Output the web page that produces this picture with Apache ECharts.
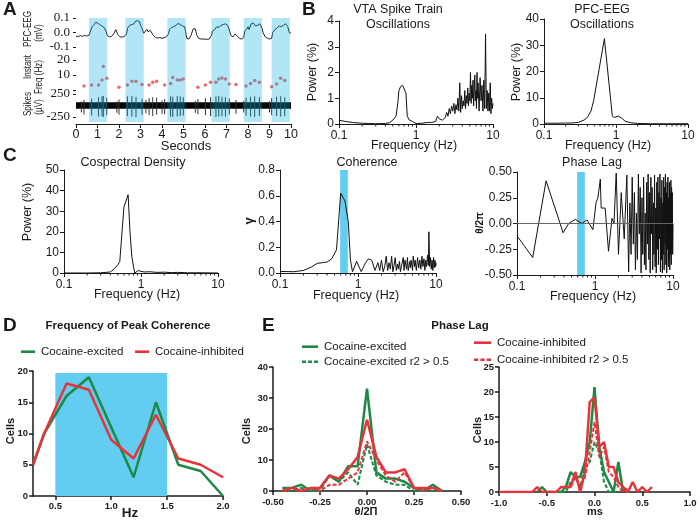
<!DOCTYPE html>
<html><head><meta charset="utf-8">
<script src="https://cdn.jsdelivr.net/npm/echarts@6.0.0/dist/echarts.min.js"></script>
<style>html,body{margin:0;padding:0;background:#fff;}#chart{width:700px;height:524px;}</style>
</head><body><div id="chart"></div>
<script>
// ---------- Panel A ----------
const bandsA = [[0.6,1.45],[2.3,3.15],[4.25,5.1],[6.3,7.15],[7.8,8.65],[9.1,9.95]];
const eegTicks = [-0.1, 0, 0.1];
const eegTrace = [[0,-0.025],[0.1,-0.028],[0.2,-0.022],[0.3,-0.026],[0.4,-0.02],[0.5,-0.024],[0.6,-0.02],[0.65,0.0],[0.7,0.02],[0.75,0.04],[0.8,0.035],[0.85,0.055],[0.9,0.07],[0.95,0.075],[1.0,0.065],[1.05,0.07],[1.1,0.055],[1.15,0.06],[1.2,0.045],[1.25,0.05],[1.3,0.035],[1.35,0.04],[1.4,0.01],[1.45,-0.02],[1.55,-0.03],[1.65,-0.028],[1.75,-0.01],[1.85,0.02],[1.95,-0.015],[2.05,-0.03],[2.15,-0.032],[2.25,-0.028],[2.35,-0.01],[2.4,0.03],[2.5,0.05],[2.6,0.055],[2.7,0.06],[2.75,0.075],[2.85,0.082],[2.9,0.07],[2.95,0.075],[3.0,0.05],[3.05,0.035],[3.1,0.025],[3.15,-0.005],[3.2,0.0],[3.3,0.022],[3.35,0.005],[3.45,0.015],[3.5,0.018],[3.6,-0.02],[3.7,-0.035],[3.8,-0.038],[3.9,-0.035],[4.0,-0.04],[4.1,-0.036],[4.2,-0.03],[4.3,-0.01],[4.35,0.02],[4.45,0.035],[4.55,0.04],[4.65,0.05],[4.75,0.062],[4.85,0.055],[4.95,0.045],[5.05,0.04],[5.1,0.005],[5.15,-0.04],[5.25,-0.045],[5.35,-0.02],[5.45,0.025],[5.55,0.025],[5.62,-0.02],[5.7,-0.04],[5.8,-0.045],[5.95,-0.045],[6.1,-0.047],[6.2,-0.045],[6.3,-0.02],[6.35,0.01],[6.45,0.02],[6.55,0.04],[6.65,0.035],[6.75,0.05],[6.85,0.055],[6.95,0.06],[7.05,0.05],[7.1,0.04],[7.15,0.01],[7.2,-0.02],[7.3,-0.03],[7.4,-0.01],[7.5,-0.025],[7.6,-0.04],[7.7,-0.045],[7.8,-0.035],[7.85,0.01],[7.95,0.025],[8.0,0.04],[8.05,0.02],[8.15,0.06],[8.25,0.065],[8.35,0.045],[8.45,0.05],[8.55,0.06],[8.65,0.03],[8.7,0.0],[8.8,-0.03],[8.9,-0.04],[9.0,-0.045],[9.1,-0.04],[9.15,0.0],[9.25,0.02],[9.35,0.03],[9.45,0.045],[9.55,0.04],[9.65,0.05],[9.75,0.06],[9.85,0.04],[9.92,0.0],[10.0,-0.005]];
const freqTime = [0.37,0.73,1.05,1.21,1.27,1.43,2.0,2.39,2.6,2.79,3.07,3.4,3.57,3.75,4.12,4.4,4.5,4.71,4.85,4.99,5.67,6.02,6.26,6.51,6.64,6.79,6.95,7.13,7.44,7.91,8.12,8.31,8.53,9.1,9.33,9.52,9.71];
const freqHz   = [2.7,3.3,3.3,6.7,15.6,7.8,1.8,3.3,5.8,5.8,3.6,3.3,5.1,5.8,3.3,4.4,8.4,6.7,6.7,7.3,1.8,3.3,5.1,5.1,7.3,8.0,7.3,4.0,3.6,2.7,4.4,6.4,5.1,2.2,4.0,7.8,6.4];
const spikeTime = [0.25,0.37,0.73,1.05,1.21,1.27,1.43,1.9,2.0,2.39,2.6,2.79,3.07,3.25,3.4,3.57,3.75,4.0,4.12,4.4,4.5,4.71,4.85,4.99,5.55,5.67,6.02,6.26,6.51,6.64,6.79,6.95,7.13,7.44,7.8,7.91,8.12,8.31,8.53,9.0,9.1,9.33,9.52,9.71];
const spikeUp   = [90,120,150,180,200,210,170,90,130,200,210,190,150,120,160,180,170,110,140,200,190,210,200,180,100,140,160,180,200,210,190,180,150,120,100,170,190,200,180,90,160,190,200,180];
const spikeDown = [150,200,220,240,230,250,210,160,200,230,240,250,200,170,210,230,200,180,190,240,250,240,230,220,160,190,210,230,250,240,230,240,200,180,150,220,240,250,230,150,210,230,240,230];
const noiseBand = [[0,10,70]];

// ---------- Panel B ----------
const vtaPower = [[0.1,0.15],[0.12,0.1],[0.15,0.06],[0.2,0.03],[0.25,0.02],[0.3,0.01],[0.4,0.02],[0.45,0.05],[0.5,0.15],[0.55,0.3],[0.58,0.8],[0.6,1.3],[0.63,1.45],[0.67,1.5],[0.71,1.52],[0.74,1.2],[0.77,0.3],[0.82,0.15],[0.9,0.1],[0.95,0.05],[1.0,0.02],[1.2,0.03],[1.4,0.06],[1.6,0.06],[1.8,0.1],[1.9,0.3],[2.0,0.2],[2.1,0.22],[2.2,0.15],[2.3,0.2],[2.4,0.25],[2.5,0.45],[2.6,0.3],[2.7,0.6],[2.8,0.4],[2.9,0.7],[3.0,0.5],[3.1,0.8],[3.2,0.4],[3.3,0.75],[3.4,0.55],[3.5,1.0],[3.6,0.5],[3.7,1.6],[3.8,0.45],[3.9,1.1],[4.0,0.6],[4.1,0.9],[4.2,0.7],[4.3,1.3],[4.4,0.6],[4.5,1.1],[4.6,0.8],[4.7,1.4],[4.8,0.7],[4.9,1.2],[5.0,0.9],[5.1,2.0],[5.2,0.8],[5.3,1.5],[5.4,1.0],[5.5,1.7],[5.6,0.7],[5.8,1.9],[5.9,0.9],[6.0,1.3],[6.1,0.6],[6.2,2.0],[6.3,1.0],[6.4,1.6],[6.6,0.5],[6.8,1.8],[7.0,0.9],[7.2,1.5],[7.4,0.5],[7.6,1.7],[7.8,0.6],[8.0,3.5],[8.2,0.6],[8.4,1.3],[8.6,0.5],[8.8,1.2],[9.0,0.5],[9.2,1.6],[9.4,0.4],[9.6,1.0],[9.8,0.6],[10.0,0.8]];
const pfcPower = [[0.1,0.3],[0.15,0.3],[0.2,0.35],[0.25,0.4],[0.3,0.6],[0.36,1.5],[0.4,2.5],[0.45,5],[0.49,9],[0.69,32.5],[0.89,3],[0.95,2.5],[1.0,2.2],[1.08,3],[1.2,2.2],[1.35,1],[1.6,0.5],[2,0.2],[3,0.1],[5,0.1],[10,0.1]];

// ---------- Panel C ----------
const cospectral = [[0.1,0],[0.2,0],[0.3,0.1],[0.4,0.5],[0.45,2],[0.5,4],[0.53,5.5],[0.6,32],[0.68,38],[0.72,20],[0.76,8],[0.8,3],[0.83,0],[0.88,0.5],[0.92,1.2],[1.0,0.8],[1.1,0.5],[1.3,0.6],[1.6,0.3],[2,0.4],[2.5,0.2],[3,0.3],[4,0.1],[6,0.1],[10,0]];
const coherence = [[0.1,0.012],[0.15,0.01],[0.2,0.02],[0.25,0.045],[0.3,0.075],[0.35,0.08],[0.4,0.085],[0.46,0.11],[0.53,0.18],[0.6,0.62],[0.68,0.56],[0.75,0.4],[0.8,0.1],[0.85,0.01],[0.96,0.09],[1.1,0.01],[1.25,0.08],[1.36,0.11],[1.5,0.1],[1.65,0.02],[1.8,0.08],[1.9,0.02],[2.0,0.1],[2.1,0.01],[2.2,0.05],[2.3,0.13],[2.4,0.02],[2.5,0.08],[2.6,0.03],[2.7,0.13],[2.8,0.01],[2.9,0.06],[3.0,0.12],[3.1,0.02],[3.2,0.07],[3.3,0.03],[3.4,0.09],[3.5,0.01],[3.6,0.05],[3.8,0.12],[3.9,0.02],[4.0,0.1],[4.2,0.03],[4.3,0.12],[4.4,0.02],[4.6,0.09],[4.7,0.04],[4.8,0.1],[5.0,0.02],[5.1,0.13],[5.3,0.05],[5.4,0.1],[5.6,0.02],[5.8,0.12],[6.0,0.04],[6.2,0.1],[6.4,0.03],[6.6,0.13],[6.8,0.05],[7.0,0.11],[7.2,0.02],[7.4,0.1],[7.6,0.05],[7.8,0.14],[8.0,0.06],[8.1,0.32],[8.3,0.05],[8.5,0.12],[8.7,0.03],[8.9,0.1],[9.1,0.02],[9.3,0.12],[9.5,0.04],[9.7,0.1],[9.9,0.05],[10,0.08]];
const phaseLag = [[0.1,-0.12],[0.159,-0.33],[0.236,0.415],[0.39,-0.09],[0.46,0.0],[0.56,0.04],[0.68,0.0],[0.79,0.035],[0.94,-0.06],[1.03,0.2],[1.09,0.25],[1.17,0.43],[1.2,0.15],[1.35,0.15],[1.49,-0.27],[1.65,0.05],[1.75,0.0],[1.87,0.49],[2.0,-0.3],[2.17,0.3],[2.37,-0.15],[2.56,0.47],[2.7,-0.47],[2.8,0.2],[2.9,-0.3],[3.0,0.45],[3.1,-0.2],[3.2,0.3],[3.3,-0.45],[3.4,0.1],[3.5,-0.35],[3.6,0.48],[3.7,-0.1],[3.8,0.35],[3.9,-0.48],[4.0,0.25],[4.1,-0.3],[4.2,0.45],[4.3,-0.4],[4.4,0.1],[4.5,-0.45],[4.6,0.4],[4.7,-0.2],[4.8,0.48],[4.9,-0.35],[5.0,0.3],[5.1,-0.48],[5.2,0.45],[5.3,-0.1],[5.4,0.35],[5.5,-0.45],[5.6,0.2],[5.7,-0.3],[5.8,0.47],[5.9,-0.42],[6.0,0.15],[6.1,-0.48],[6.2,0.4],[6.3,-0.25],[6.4,0.45],[6.5,-0.4],[6.6,0.3],[6.7,-0.15],[6.8,0.48],[6.9,-0.47],[7.0,0.25],[7.1,-0.35],[7.2,0.42],[7.3,-0.48],[7.4,0.2],[7.5,-0.3],[7.6,0.45],[7.7,-0.45],[7.8,0.35],[7.9,-0.2],[8.0,0.48],[8.1,-0.4],[8.2,0.3],[8.3,-0.48],[8.4,0.4],[8.5,-0.25],[8.6,0.45],[8.7,-0.42],[8.8,0.25],[8.9,-0.35],[9.0,0.4],[9.1,-0.45],[9.2,0.3],[9.3,-0.3],[9.4,0.42],[9.5,-0.4],[9.6,0.35],[9.7,-0.25],[9.8,0.3],[9.9,-0.3],[10.0,0.0]];
const coherenceBand = [[0.59,0.74]];
const logMinor = [0.2,0.3,0.4,0.5,0.6,0.7,0.8,0.9,2,3,4,5,6,7,8,9];

// ---------- Panel D ----------
const hzBins = [0.3,0.4,0.6,0.8,1.0,1.2,1.4,1.6,1.8,2.0];
const hzTicks = [0.5,1.0,1.5,2.0];
const dExcited = [5,10,16,19,11,3,15,5,4,0];
const dInhibited = [5,10,18,17,9,6,13,6,5,3];
const dBand = [[0.5,1.5,19.7]];

// ---------- Panel E ----------
const lagBins = [-0.45,-0.4,-0.35,-0.3,-0.25,-0.2,-0.15,-0.1,-0.05,0,0.05,0.1,0.15,0.2,0.25,0.3,0.35,0.4];
const eExcAll = [1,1,2,0,1,5,3,8,8,33,6,4,4,3,1,0,2,0];
const eExcR2  = [0,0,1,0,0,5,3,6,2,15,5,3,2,2,0,0,0,0];
const eInhAll = [0,1,0,1,1,5,4,7,11,23,11,6,6,7,1,1,1,0];
const eInhR2  = [0,1,0,1,0,2,2,4,6,16,10,5,3,6,1,0,1,0];
const msBins = [-1.0,-0.95,-0.9,-0.85,-0.8,-0.75,-0.7,-0.65,-0.6,-0.55,-0.5,-0.45,-0.4,-0.35,-0.3,-0.25,-0.2,-0.15,-0.1,-0.05,0,0.05,0.1,0.15,0.2,0.25,0.3,0.35,0.4,0.45,0.5,0.55,0.6];
const msExcAll = [null,null,null,null,null,null,null,null,0,1,0,0,0,0,1,4,3,3,6,10,21,9,4,2,0,6,0,null,null,null,null,null,null];
const msExcR2  = [null,null,null,null,null,null,null,null,null,null,null,null,null,0,0,2,3,1,5,6,10,8,2,0,0,0,null,null,null,null,null,null,null];
const msInhAll = [0,0,0,0,0,0,0,0,1,0,0,0,0,1,1,1,4,0,4,18,19,9,10,5,5,2,1,0,2,0,1,0,1];
const msInhR2  = [null,null,null,null,null,null,null,null,null,null,null,null,null,null,1,1,3,1,3,8,14,7,9,4,3,1,0,1,null,null,null,null,null];

// ---------- styling ----------
const SANS = 'Liberation Sans, Arial, sans-serif';
const SERIF = 'Liberation Serif, Times New Roman, serif';
const INK = '#1a1a1a';
const GREEN = '#1c8a44';
const RED = '#e8323c';
const BLUE = '#62cdf0';

const zip = (xs, ys) => xs.map((x, i) => [x, ys[i]]);
const LBL = {showMinLabel: true, showMaxLabel: true, hideOverlap: false};

function thinAxis(extra) {
  const base = {
    axisLine: {show: true, onZero: false, lineStyle: {color: INK, width: 1}},
    axisTick: {show: true, length: 4, lineStyle: {color: INK, width: 1}},
    splitLine: {show: false}
  };
  const o = Object.assign(base, extra);
  o.axisLabel = Object.assign({color: INK, fontSize: 12, fontFamily: SANS, margin: 5}, LBL, extra.axisLabel || {});
  return o;
}
function boldAxis(extra) {
  const base = {
    axisLine: {show: true, onZero: false, lineStyle: {color: INK, width: 1.5}},
    axisTick: {show: true, length: 4, lineStyle: {color: INK, width: 1.5}},
    splitLine: {show: false}
  };
  const o = Object.assign(base, extra);
  o.axisLabel = Object.assign({color: INK, fontSize: 9.5, fontWeight: 'bold', fontFamily: SANS, margin: 5}, LBL, extra.axisLabel || {});
  return o;
}
function logX(gi) {
  return thinAxis({type: 'log', logBase: 10, min: 0.1, max: 10, gridIndex: gi,
    axisLabel: {margin: 6, formatter: v => String(v)}});
}
function minorTicks(gi, yMin) {
  return {type: 'custom', xAxisIndex: gi, yAxisIndex: gi, silent: true, z: 5,
    data: logMinor.map(v => [v, yMin]),
    renderItem: (p, api) => {
      const c = api.coord([api.value(0), api.value(1)]);
      return {type: 'line', shape: {x1: c[0], y1: c[1], x2: c[0], y2: c[1] + 2.5}, style: {stroke: INK, lineWidth: 1}};
    }};
}
function bandRect(gi, data, yMin, yMax, color) {
  return {type: 'custom', xAxisIndex: gi, yAxisIndex: gi, silent: true, z: 1,
    data: data,
    renderItem: (p, api) => {
      const a = api.coord([api.value(0), yMax]);
      const b = api.coord([api.value(1), yMin]);
      return {type: 'rect', shape: {x: a[0], y: a[1], width: b[0] - a[0], height: b[1] - a[1]}, style: {fill: color}};
    }};
}
function lineS(gi, data, color, width, extra) {
  return Object.assign({type: 'line', xAxisIndex: gi, yAxisIndex: gi, data: data, symbol: 'none',
    lineStyle: {color: color, width: width}, itemStyle: {color: color}, z: 3, silent: true}, extra || {});
}

const grids = [
  {left: 76, top: 18, width: 215, height: 29},   // 0 EEG
  {left: 76, top: 60, width: 215, height: 30},   // 1 instant freq
  {left: 76, top: 94, width: 215, height: 23},   // 2 spikes
  {left: 76, top: 18, width: 215, height: 104},  // 3 band overlay
  {left: 339, top: 21, width: 154, height: 103}, // 4 VTA
  {left: 544, top: 19, width: 144, height: 105}, // 5 PFC
  {left: 64, top: 170, width: 154, height: 103}, // 6 cospectral
  {left: 280, top: 170, width: 156, height: 103},// 7 coherence
  {left: 517, top: 172, width: 156, height: 103},// 8 phase lag
  {left: 33, top: 371, width: 190, height: 125}, // 9 D
  {left: 273, top: 367, width: 188, height: 124},// 10 E left
  {left: 499, top: 367, width: 191, height: 125} // 11 E right
];

const hiddenX = gi => ({type: 'value', gridIndex: gi, min: 0, max: 10, show: false});
const xAxes = [
  hiddenX(0), hiddenX(1),
  thinAxis({type: 'value', gridIndex: 2, min: 0, max: 10, interval: 1, offset: 7,
    axisLabel: {fontSize: 12.5, margin: 4}}),
  hiddenX(3),
  logX(4), logX(5), logX(6), logX(7), logX(8),
  boldAxis({type: 'value', gridIndex: 9, min: 0.3, max: 2.0,
    axisLabel: {margin: 5, customValues: hzTicks, formatter: v => v.toFixed(1)},
    axisTick: {show: true, length: 4, lineStyle: {color: INK, width: 1.5}, customValues: hzTicks}}),
  boldAxis({type: 'value', gridIndex: 10, min: -0.5, max: 0.5, interval: 0.25,
    axisLabel: {margin: 6, formatter: v => v.toFixed(2)}}),
  boldAxis({type: 'value', gridIndex: 11, min: -1, max: 1, interval: 0.5,
    axisLabel: {margin: 6, formatter: v => v.toFixed(1)}})
];

const serifY = (gi, min, max, interval, fmt, custom) => ({type: 'value', gridIndex: gi, min, max, interval,
  axisLine: {show: false, onZero: false},
  axisTick: Object.assign({show: true, length: 3, lineStyle: {color: INK}}, custom ? {customValues: custom} : {}),
  splitLine: {show: false},
  axisLabel: Object.assign({color: INK, fontSize: 13, fontFamily: SERIF, margin: 6, formatter: fmt}, LBL,
    custom ? {customValues: custom} : {})});
const yAxes = [
  serifY(0, -0.1, 0.1, 0.1, v => (Math.abs(v) < 1e-9 ? 0 : v).toFixed(1), eegTicks),
  serifY(1, 0, 20, 10, v => v === 0 ? '' : String(v)),
  serifY(2, -250, 250, 250, v => String(v)),
  {type: 'value', gridIndex: 3, min: 0, max: 1, show: false},
  thinAxis({type: 'value', gridIndex: 4, min: 0, max: 4, interval: 1}),
  thinAxis({type: 'value', gridIndex: 5, min: 0, max: 40, interval: 10}),
  thinAxis({type: 'value', gridIndex: 6, min: 0, max: 50, interval: 10}),
  thinAxis({type: 'value', gridIndex: 7, min: 0, max: 0.8, interval: 0.2,
    axisLabel: {formatter: v => v.toFixed(1)}}),
  thinAxis({type: 'value', gridIndex: 8, min: -0.5, max: 0.5, interval: 0.25,
    axisLabel: {formatter: v => v.toFixed(2)}}),
  boldAxis({type: 'value', gridIndex: 9, min: 0, max: 20, interval: 5}),
  boldAxis({type: 'value', gridIndex: 10, min: 0, max: 40, interval: 10}),
  boldAxis({type: 'value', gridIndex: 11, min: 0, max: 25, interval: 5})
];

const DASH = [4, 2];
const series = [
  // Panel A
  lineS(0, eegTrace, '#222', 1),
  {type: 'scatter', xAxisIndex: 1, yAxisIndex: 1, data: zip(freqTime, freqHz), symbolSize: 3.5,
    itemStyle: {color: '#e0484c'}, silent: true, z: 3},
  {type: 'custom', xAxisIndex: 2, yAxisIndex: 2, silent: true, z: 3, data: noiseBand,
    renderItem: (p, api) => {
      const a = api.coord([api.value(0), api.value(2)]);
      const b = api.coord([api.value(1), -api.value(2)]);
      return {type: 'rect', shape: {x: a[0], y: a[1], width: b[0] - a[0], height: b[1] - a[1]}, style: {fill: '#050505'}};
    }},
  {type: 'custom', xAxisIndex: 2, yAxisIndex: 2, silent: true, z: 4,
    data: spikeTime.map((t, i) => [t, spikeUp[i], spikeDown[i]]),
    renderItem: (p, api) => {
      const a = api.coord([api.value(0), api.value(1)]);
      const b = api.coord([api.value(0), -api.value(2)]);
      return {type: 'line', shape: {x1: a[0], y1: a[1], x2: b[0], y2: b[1]}, style: {stroke: '#333', lineWidth: 1}};
    }},
  {type: 'custom', xAxisIndex: 3, yAxisIndex: 3, silent: true, z: 10, data: bandsA,
    renderItem: (p, api) => {
      const a = api.coord([api.value(0), 1]);
      const b = api.coord([api.value(1), 0]);
      return {type: 'rect', shape: {x: a[0], y: a[1], width: b[0] - a[0], height: b[1] - a[1]}, style: {fill: 'rgba(0,172,228,0.3)'}};
    }},
  // Panel B
  lineS(4, vtaPower, '#111', 1), minorTicks(4, 0),
  lineS(5, pfcPower, '#111', 1), minorTicks(5, 0),
  // Panel C
  lineS(6, cospectral, '#111', 1), minorTicks(6, 0),
  bandRect(7, coherenceBand, 0, 0.8, BLUE),
  lineS(7, coherence, '#111', 1), minorTicks(7, 0),
  bandRect(8, coherenceBand, -0.5, 0.5, BLUE),
  lineS(8, phaseLag, '#111', 1, {markLine: {silent: true, symbol: 'none', label: {show: false},
    lineStyle: {color: '#666', width: 1, type: 'solid'}, data: [{yAxis: 0}]}}),
  minorTicks(8, -0.5),
  // Panel D
  bandRect(9, dBand.map(r => [r[0], r[1]]), 0, dBand[0][2], BLUE),
  lineS(9, zip(hzBins, dExcited), GREEN, 2.5, {name: 'Cocaine-excited'}),
  lineS(9, zip(hzBins, dInhibited), RED, 2.5, {name: 'Cocaine-inhibited'}),
  // Panel E left
  lineS(10, zip(lagBins, eExcAll), GREEN, 2.5, {name: 'Cocaine-excited'}),
  lineS(10, zip(lagBins, eExcR2), GREEN, 2, {name: 'Cocaine-excited r2 > 0.5', lineStyle: {color: GREEN, width: 2, type: DASH}}),
  lineS(10, zip(lagBins, eInhAll), RED, 2.5, {name: 'Cocaine-inhibited'}),
  lineS(10, zip(lagBins, eInhR2), RED, 2, {name: 'Cocaine-inhibited r2 > 0.5', lineStyle: {color: RED, width: 2, type: DASH}}),
  // Panel E right
  lineS(11, zip(msBins, msExcAll), GREEN, 2.5, {name: 'Cocaine-excited'}),
  lineS(11, zip(msBins, msExcR2), GREEN, 2, {name: 'Cocaine-excited r2 > 0.5', lineStyle: {color: GREEN, width: 2, type: DASH}}),
  lineS(11, zip(msBins, msInhAll), RED, 2.5, {name: 'Cocaine-inhibited'}),
  lineS(11, zip(msBins, msInhR2), RED, 2, {name: 'Cocaine-inhibited r2 > 0.5', lineStyle: {color: RED, width: 2, type: DASH}})
];

const SOLID_ICON = 'rect';
const DASH_ICON = 'path://M0 0h4v2h-4z M6 0h4v2h-4z M12 0h4v2h-4z';
function legendItem(name, icon, left, textCenterY, w) {
  const h = 2.6;
  return {data: [{name: name, icon: icon}], left: left, top: textCenterY - h / 2, orient: 'horizontal',
    itemWidth: w, itemHeight: h, symbolKeepAspect: false, selectedMode: false, padding: 0,
    itemStyle: {borderWidth: 0},
    textStyle: {color: INK, fontSize: 11.5, fontFamily: SANS, padding: [0, 0, 0, 1]}};
}
const legends = [
  legendItem('Cocaine-excited', SOLID_ICON, 21, 347, 14),
  legendItem('Cocaine-inhibited', SOLID_ICON, 135, 347, 14),
  legendItem('Cocaine-excited', SOLID_ICON, 302, 342, 16),
  legendItem('Cocaine-excited r2 > 0.5', DASH_ICON, 302, 357, 16),
  legendItem('Cocaine-inhibited', SOLID_ICON, 474, 338, 17),
  legendItem('Cocaine-inhibited r2 > 0.5', DASH_ICON, 474, 355, 17)
];

function txt(text, x, y, size, opt) {
  opt = opt || {};
  return {type: 'text', x: x, y: y, rotation: opt.rot ? Math.PI / 2 : 0, scaleX: opt.sx || 1, silent: true,
    style: {text: text, fontSize: size, fontWeight: opt.bold ? 'bold' : 'normal', fontFamily: opt.family || SANS,
      fill: INK, textAlign: opt.align || 'center', textVerticalAlign: 'middle'}};
}
const graphics = [
  txt('A', 3, 10, 19, {bold: true, align: 'left'}),
  txt('B', 302, 10, 19, {bold: true, align: 'left'}),
  txt('C', 3, 156, 19, {bold: true, align: 'left'}),
  txt('D', 3, 326, 19, {bold: true, align: 'left'}),
  txt('E', 262, 326, 19, {bold: true, align: 'left'}),
  // A labels (condensed)
  txt('PFC-EEG', 28, 29, 11.5, {rot: true, sx: 0.7}), txt('(mV)', 39, 33, 11.5, {rot: true, sx: 0.7}),
  txt('Instant', 28, 67, 11.5, {rot: true, sx: 0.7}), txt('Freq (Hz)', 39, 77, 11.5, {rot: true, sx: 0.7}),
  txt('Spikes', 28, 104, 11.5, {rot: true, sx: 0.7}), txt('(µV)', 39, 107, 11.5, {rot: true, sx: 0.7}),
  txt('Seconds', 186, 146, 13),
  // B
  txt('VTA Spike Train', 398, 10, 12.5), txt('Oscillations', 398, 25, 12.5),
  txt('PFC-EEG', 602, 10, 12.5), txt('Oscillations', 602, 25, 12.5),
  txt('Power (%)', 313, 72, 12.5, {rot: true}), txt('Power (%)', 517, 72, 12.5, {rot: true}),
  txt('Frequency (Hz)', 414, 146, 12.5), txt('Frequency (Hz)', 608, 146, 12.5),
  // C
  txt('Cospectral Density', 133, 163, 12.5), txt('Coherence', 367, 163, 12.5), txt('Phase Lag', 592, 163, 12.5),
  txt('Power (%)', 28, 212, 12.5, {rot: true}),
  txt('γ', 249, 221, 13, {rot: true, bold: true}),
  txt('θ/2π', 480, 223, 10, {rot: true, bold: true}),
  txt('Frequency (Hz)', 137, 295, 12.5), txt('Frequency (Hz)', 356, 296, 12.5), txt('Frequency (Hz)', 593, 297, 12.5),
  // D
  txt('Frequency of Peak Coherence', 128, 326, 11.5, {bold: true}),
  txt('Cells', 11, 431, 11, {rot: true, bold: true}),
  txt('Hz', 130, 513, 13.5, {bold: true}),
  // E
  txt('Phase Lag', 460, 326, 11.5, {bold: true}),
  txt('Cells', 247, 431, 11, {rot: true, bold: true}),
  txt('Cells', 478, 430, 11, {rot: true, bold: true}),
  txt('θ/2Π', 366, 512, 11, {bold: true}),
  txt('ms', 595, 512, 11, {bold: true})
];

const chart = echarts.init(document.getElementById('chart'), null, {renderer: 'canvas'});
chart.setOption({
  animation: false,
  backgroundColor: '#fff',
  grid: grids,
  xAxis: xAxes,
  yAxis: yAxes,
  legend: legends,
  series: series,
  graphic: graphics
});
</script></body></html>
